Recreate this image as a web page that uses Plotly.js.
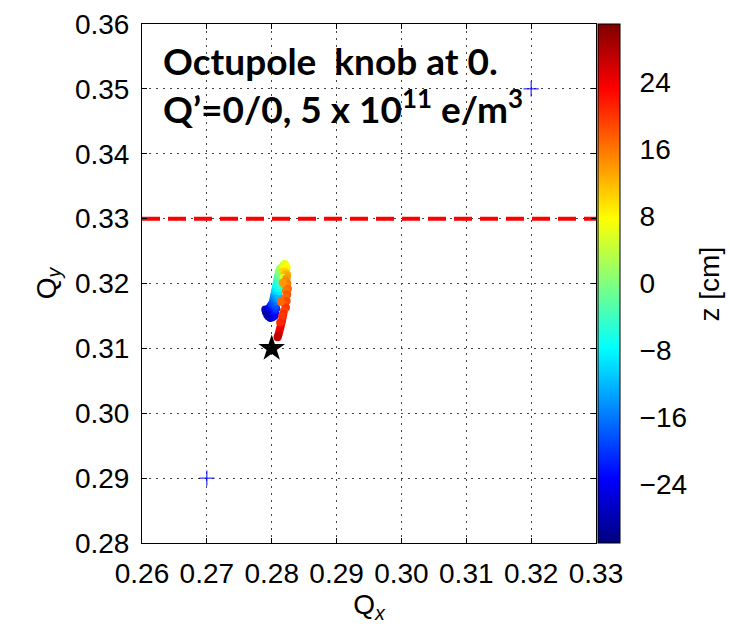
<!DOCTYPE html>
<html>
<head>
<meta charset="utf-8">
<script src="https://cdn.plot.ly/plotly-3.0.1.min.js"></script>
<style>html,body{margin:0;padding:0;background:#fff;}#chart{width:730px;height:630px;}</style>
</head>
<body>
<div id="chart"></div>
<script>
// Tune footprint (Qx, Qy) coloured by longitudinal position z [cm]
var qx = [
  0.2791,0.2793,0.2795,0.2798,0.2801,0.2804,0.2790,0.2794,0.2797,0.2800,
  0.2803,0.2806,0.2796,0.2799,0.2802,0.2805,0.2798,0.2801,0.2804,0.2807,
  0.2800,0.2803,0.2806,0.2802,0.2805,0.2808,0.2803,0.2806,0.2809,0.2804,
  0.2807,0.2810,
  0.2805,0.2808,0.2811,0.2806,0.2809,0.2812,0.2807,0.2810,0.2813,0.2808,
  0.2811,
  0.2814,0.2809,0.2812,0.2815,0.2810,0.2813,0.2816,0.2811,0.2814,0.2817,
  0.2813,0.2816,0.2818,
  0.2820,0.2822,0.2819,0.2821,0.2823,0.2818,0.2822,0.2820,0.2824,0.2818,
  0.2823,0.2821,0.2824,0.2822,0.2825,0.2822,0.2824,0.2821,0.2823,0.2820,
  0.2822,0.2819,0.2817,0.2814,
  0.2818,0.2817,0.2816,0.2815,0.2814,0.2813,0.2812,0.2811,0.2810,0.2809,
  0.2816,0.2813];
var qy = [
  0.3156,0.3152,0.3149,0.3147,0.3148,0.3150,0.3160,0.3158,0.3155,0.3153,
  0.3155,0.3153,0.3162,0.3160,0.3159,0.3158,0.3165,0.3164,0.3163,0.3161,
  0.3168,0.3170,0.3167,0.3173,0.3175,0.3172,0.3178,0.3180,0.3177,0.3183,
  0.3185,0.3182,
  0.3188,0.3190,0.3188,0.3193,0.3195,0.3193,0.3198,0.3200,0.3197,0.3203,
  0.3205,
  0.3202,0.3208,0.3210,0.3207,0.3213,0.3215,0.3212,0.3218,0.3220,0.3217,
  0.3223,0.3225,0.3228,
  0.3230,0.3227,0.3224,0.3221,0.3224,0.3219,0.3217,0.3213,0.3213,0.3209,
  0.3208,0.3204,0.3200,0.3196,0.3192,0.3188,0.3183,0.3178,0.3173,0.3168,
  0.3163,0.3158,0.3201,0.3172,
  0.3153,0.3148,0.3143,0.3139,0.3135,0.3131,0.3127,0.3123,0.3120,0.3117,
  0.3150,0.3140];
var zpos = [
  -29,-30,-28,-27,-26,-25,-27,-28,-29,-27,
  -24,-23,-25,-26,-24,-22,-23,-22,-21,-20,
  -20,-19,-18,-18,-17,-16,-16,-15,-14,-14,
  -13,-12,
  -11,-10,-9,-9,-8,-7,-7,-6,-5,-6,
  -5,
  -3,-4,-3,-2,-2,-1,0,0,1,2,
  2,3,4,
  6,7,8,9,8,10,11,12,13,5,
  14,15,16,15,17,16,18,17,19,18,
  20,19,14,17,
  21,21,22,22,23,24,24,25,26,27,
  20,21];

var crossX = [0.27, 0.32];
var crossY = [0.29, 0.35];
var starX = [0.28];
var starY = [0.31];
var resX = [0.26, 0.33];
var resY = [0.33, 0.33];

var xTicks = [0.26,0.27,0.28,0.29,0.30,0.31,0.32,0.33];
var yTicks = [0.28,0.29,0.30,0.31,0.32,0.33,0.34,0.35,0.36];
var zTicks = [-24,-16,-8,0,8,16,24];

var jet = [[0,'rgb(0,0,128)'],[0.125,'rgb(0,0,255)'],[0.375,'rgb(0,255,255)'],
           [0.625,'rgb(255,255,0)'],[0.875,'rgb(255,0,0)'],[1,'rgb(128,0,0)']];

var FONT = 'Liberation Sans, Arial, sans-serif';
var tickFont = {family:FONT, size:28, color:'#000'};

var traces = [
  {x:resX, y:resY, mode:'lines', type:'scatter', hoverinfo:'skip',
   line:{color:'rgb(255,0,0)', width:4, dash:'18px,8px'}, showlegend:false},
  {x:crossX, y:crossY, mode:'markers', type:'scatter',
   marker:{symbol:'cross-thin', size:11, line:{color:'rgb(0,0,255)', width:1}}, showlegend:false},
  {x:qx, y:qy, mode:'markers', type:'scatter', showlegend:false,
   marker:{size:8, color:zpos, colorscale:jet, cmin:-31, cmax:31, line:{width:0},
     colorbar:{x:1.004, xanchor:'left', xpad:0, ypad:0, y:0.5, len:1, lenmode:'fraction',
       thickness:22, outlinewidth:1, outlinecolor:'#000',
       tickvals:zTicks, ticks:'outside', ticklen:14, tickcolor:'rgba(0,0,0,0)',
       tickfont:tickFont}}},
  {x:starX, y:starY, mode:'markers', type:'scatter', showlegend:false,
   marker:{symbol:'star', size:20, color:'#000', line:{width:0}}}
];

var axisCommon = {
  showline:true, linecolor:'#000', linewidth:1, mirror:'ticks',
  ticks:'inside', ticklen:5, tickcolor:'#000',
  showgrid:true, gridcolor:'#444', gridwidth:1, griddash:'2px,5px',
  zeroline:false, tickfont:tickFont, tickformat:'.2f'
};

var layout = {
  width:730, height:630,
  margin:{l:142, r:134, t:24, b:87},
  paper_bgcolor:'#fff', plot_bgcolor:'#fff',
  xaxis:Object.assign({}, axisCommon, {range:[0.26,0.33], tickvals:xTicks, ticklabelstandoff:5,
    title:{text:'Q<sub><i>x</i></sub>', font:{family:FONT, size:28, color:'#000'}, standoff:6}}),
  yaxis:Object.assign({}, axisCommon, {range:[0.28,0.36], tickvals:yTicks, ticklabelstandoff:6,
    title:{text:'Q<sub><i>y</i></sub>', font:{family:FONT, size:28, color:'#000'}, standoff:10}}),
  annotations:[{
    xref:'paper', yref:'paper', x:0.042, y:0.977, xanchor:'left', yanchor:'top', align:'left',
    showarrow:false,
    text:'<b>Octupole  knob at 0.</b><br><b>Q’=0/0, 5 x 10<sup>11</sup> e/m<sup>3</sup></b>',
    font:{family:'Lato, Open Sans, sans-serif', size:37, color:'#000'}
  },{
    xref:'paper', yref:'paper', x:1.251, y:0.5, xanchor:'center', yanchor:'middle',
    showarrow:false, textangle:-90, text:'z [cm]',
    font:{family:FONT, size:28, color:'#000'}
  }]
};

Plotly.newPlot('chart', traces, layout, {displayModeBar:false, staticPlot:true});
</script>
</body>
</html>
